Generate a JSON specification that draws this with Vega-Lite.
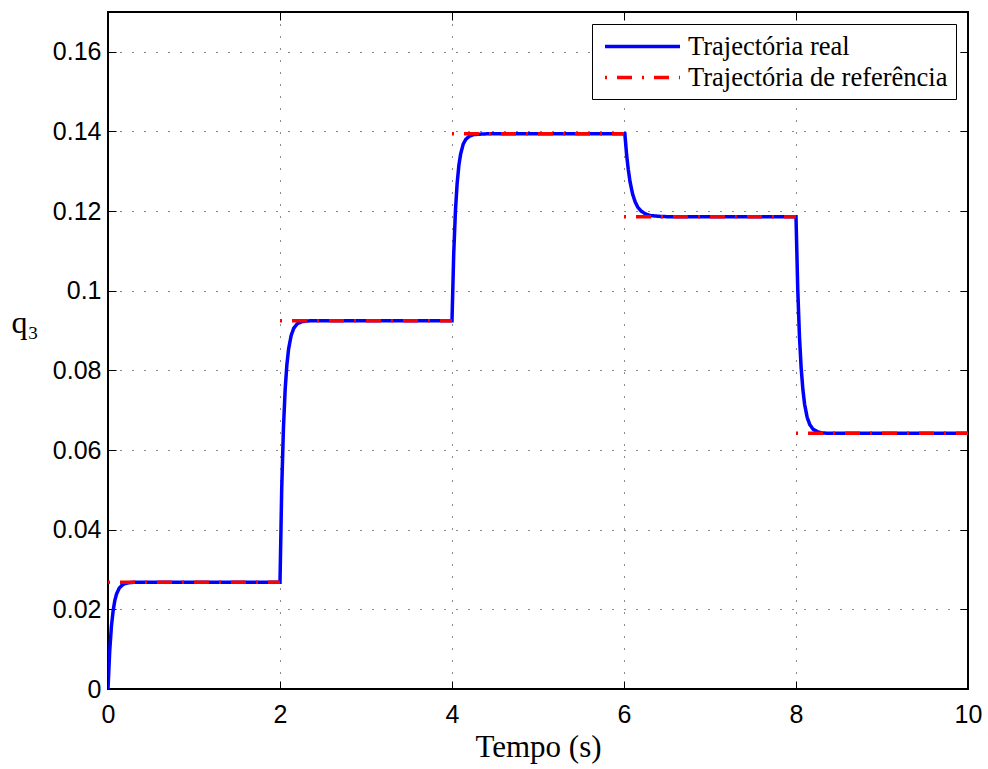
{
  "$schema": "https://vega.github.io/schema/vega-lite/v6.json",
  "width": 860,
  "height": 677,
  "autosize": {"type": "none"},
  "padding": {"left": 108, "top": 12, "right": 20, "bottom": 80},
  "background": "white",
  "config": {
    "view": {"stroke": "black", "strokeWidth": 2},
    "axis": {
      "domain": false,
      "tickColor": "black",
      "tickSize": -8,
      "tickWidth": 1,
      "gridColor": "black",
      "gridDash": [1, 11],
      "gridWidth": 1,
      "gridOpacity": 0.9,
      "labelColor": "black",
      "labelFont": "Liberation Sans",
      "labelFontSize": 25,
      "labelFlush": false,
      "titleColor": "black",
      "titleFont": "Liberation Serif",
      "titleFontWeight": "normal"
    },
    "legend": {
      "orient": "top-right",
      "offset": 12,
      "strokeColor": "black",
      "fillColor": "white",
      "padding": 8,
      "symbolType": "M-3,0H3",
      "symbolSize": 625,
      "symbolOffset": 28,
      "symbolStrokeWidth": 3.5,
      "labelFont": "Liberation Serif",
      "labelFontSize": 26.5,
      "labelColor": "black",
      "labelOffset": 31,
      "rowPadding": 3,
      "labelLimit": 400
    }
  },
  "datasets": {
    "real": [
      {"t": 0, "q": 0, "series": "Trajectória real"},
      {"t": 0.02, "q": 0.0096, "series": "Trajectória real"},
      {"t": 0.04, "q": 0.0158, "series": "Trajectória real"},
      {"t": 0.06, "q": 0.0197, "series": "Trajectória real"},
      {"t": 0.08, "q": 0.0223, "series": "Trajectória real"},
      {"t": 0.10, "q": 0.0239, "series": "Trajectória real"},
      {"t": 0.13, "q": 0.0253, "series": "Trajectória real"},
      {"t": 0.16, "q": 0.0260, "series": "Trajectória real"},
      {"t": 0.20, "q": 0.0265, "series": "Trajectória real"},
      {"t": 0.25, "q": 0.0267, "series": "Trajectória real"},
      {"t": 0.30, "q": 0.0268, "series": "Trajectória real"},
      {"t": 2.0, "q": 0.0268, "series": "Trajectória real"},
      {"t": 2.02, "q": 0.0504, "series": "Trajectória real"},
      {"t": 2.04, "q": 0.0655, "series": "Trajectória real"},
      {"t": 2.06, "q": 0.0752, "series": "Trajectória real"},
      {"t": 2.08, "q": 0.0814, "series": "Trajectória real"},
      {"t": 2.10, "q": 0.0854, "series": "Trajectória real"},
      {"t": 2.13, "q": 0.0888, "series": "Trajectória real"},
      {"t": 2.16, "q": 0.0906, "series": "Trajectória real"},
      {"t": 2.20, "q": 0.0917, "series": "Trajectória real"},
      {"t": 2.25, "q": 0.0922, "series": "Trajectória real"},
      {"t": 2.30, "q": 0.0924, "series": "Trajectória real"},
      {"t": 2.40, "q": 0.0925, "series": "Trajectória real"},
      {"t": 4.0, "q": 0.0925, "series": "Trajectória real"},
      {"t": 4.02, "q": 0.1093, "series": "Trajectória real"},
      {"t": 4.04, "q": 0.1201, "series": "Trajectória real"},
      {"t": 4.06, "q": 0.1270, "series": "Trajectória real"},
      {"t": 4.08, "q": 0.1315, "series": "Trajectória real"},
      {"t": 4.10, "q": 0.1343, "series": "Trajectória real"},
      {"t": 4.13, "q": 0.1368, "series": "Trajectória real"},
      {"t": 4.16, "q": 0.1380, "series": "Trajectória real"},
      {"t": 4.20, "q": 0.1388, "series": "Trajectória real"},
      {"t": 4.25, "q": 0.1392, "series": "Trajectória real"},
      {"t": 4.30, "q": 0.1393, "series": "Trajectória real"},
      {"t": 4.40, "q": 0.1394, "series": "Trajectória real"},
      {"t": 6.0, "q": 0.1394, "series": "Trajectória real"},
      {"t": 6.01, "q": 0.1394, "series": "Trajectória real"},
      {"t": 6.03, "q": 0.1342, "series": "Trajectória real"},
      {"t": 6.05, "q": 0.1304, "series": "Trajectória real"},
      {"t": 6.07, "q": 0.1274, "series": "Trajectória real"},
      {"t": 6.10, "q": 0.1243, "series": "Trajectória real"},
      {"t": 6.13, "q": 0.1223, "series": "Trajectória real"},
      {"t": 6.16, "q": 0.1210, "series": "Trajectória real"},
      {"t": 6.20, "q": 0.1200, "series": "Trajectória real"},
      {"t": 6.25, "q": 0.1193, "series": "Trajectória real"},
      {"t": 6.30, "q": 0.1189, "series": "Trajectória real"},
      {"t": 6.40, "q": 0.1187, "series": "Trajectória real"},
      {"t": 6.50, "q": 0.1186, "series": "Trajectória real"},
      {"t": 8.0, "q": 0.1186, "series": "Trajectória real"},
      {"t": 8.02, "q": 0.1007, "series": "Trajectória real"},
      {"t": 8.04, "q": 0.0886, "series": "Trajectória real"},
      {"t": 8.06, "q": 0.0806, "series": "Trajectória real"},
      {"t": 8.08, "q": 0.0752, "series": "Trajectória real"},
      {"t": 8.10, "q": 0.0715, "series": "Trajectória real"},
      {"t": 8.13, "q": 0.0682, "series": "Trajectória real"},
      {"t": 8.16, "q": 0.0664, "series": "Trajectória real"},
      {"t": 8.20, "q": 0.0652, "series": "Trajectória real"},
      {"t": 8.25, "q": 0.0646, "series": "Trajectória real"},
      {"t": 8.30, "q": 0.0643, "series": "Trajectória real"},
      {"t": 8.40, "q": 0.0642, "series": "Trajectória real"},
      {"t": 10, "q": 0.0642, "series": "Trajectória real"}
    ],
    "ref": [
      {"t": 0, "q": 0.0268, "seg": 1, "series": "Trajectória de referência"},
      {"t": 2, "q": 0.0268, "seg": 1, "series": "Trajectória de referência"},
      {"t": 2, "q": 0.0925, "seg": 2, "series": "Trajectória de referência"},
      {"t": 4, "q": 0.0925, "seg": 2, "series": "Trajectória de referência"},
      {"t": 4, "q": 0.1394, "seg": 3, "series": "Trajectória de referência"},
      {"t": 6, "q": 0.1394, "seg": 3, "series": "Trajectória de referência"},
      {"t": 6, "q": 0.1186, "seg": 4, "series": "Trajectória de referência"},
      {"t": 8, "q": 0.1186, "seg": 4, "series": "Trajectória de referência"},
      {"t": 8, "q": 0.0642, "seg": 5, "series": "Trajectória de referência"},
      {"t": 10, "q": 0.0642, "seg": 5, "series": "Trajectória de referência"}
    ]
  },
  "layer": [
    {
      "data": {"name": "real"},
      "mark": {"type": "line", "strokeWidth": 3.5, "clip": true},
      "encoding": {
        "x": {"field": "t", "type": "quantitative", "scale": {"domain": [0, 10], "nice": false},
          "axis": {"orient": "bottom", "values": [0, 2, 4, 6, 8, 10], "format": "d", "grid": true, "title": "Tempo (s)", "titleFontSize": 31, "labelPadding": 21, "titlePadding": 5}},
        "y": {"field": "q", "type": "quantitative", "scale": {"domain": [0, 0.17], "nice": false},
          "axis": {"orient": "left", "values": [0, 0.02, 0.04, 0.06, 0.08, 0.1, 0.12, 0.14, 0.16], "format": "~g", "grid": true, "title": "q₃", "titleFontSize": 32, "titleAngle": 0, "titleAlign": "left", "titleBaseline": "middle", "titleX": -97, "titleY": 310, "labelPadding": 15}},
        "color": {"field": "series", "type": "nominal", "scale": {"domain": ["Trajectória real", "Trajectória de referência"], "range": ["#0000ff", "#ff0000"]}, "legend": {"title": null}},
        "strokeDash": {"field": "series", "type": "nominal", "scale": {"domain": ["Trajectória real", "Trajectória de referência"], "range": [[1, 0], [2, 10, 15, 10]]}, "legend": {"title": null}}
      }
    },
    {
      "data": {"name": "ref"},
      "mark": {"type": "line", "strokeWidth": 3.5, "clip": true},
      "encoding": {
        "x": {"field": "t", "type": "quantitative", "scale": {"domain": [0, 10], "nice": false}, "axis": null},
        "y": {"field": "q", "type": "quantitative", "scale": {"domain": [0, 0.17], "nice": false}, "axis": null},
        "detail": {"field": "seg", "type": "nominal"},
        "color": {"field": "series", "type": "nominal", "scale": {"domain": ["Trajectória real", "Trajectória de referência"], "range": ["#0000ff", "#ff0000"]}, "legend": {"title": null}},
        "strokeDash": {"field": "series", "type": "nominal", "scale": {"domain": ["Trajectória real", "Trajectória de referência"], "range": [[1, 0], [2, 10, 15, 10]]}, "legend": {"title": null}}
      }
    },
    {
      "data": {"name": "ref"},
      "mark": {"type": "point", "opacity": 0},
      "encoding": {
        "x": {"field": "t", "type": "quantitative", "scale": {"domain": [0, 10], "nice": false},
          "axis": {"orient": "top", "values": [0, 2, 4, 6, 8, 10], "labels": false, "grid": false, "title": null}},
        "y": {"field": "q", "type": "quantitative", "scale": {"domain": [0, 0.17], "nice": false},
          "axis": {"orient": "right", "values": [0, 0.02, 0.04, 0.06, 0.08, 0.1, 0.12, 0.14, 0.16], "labels": false, "grid": false, "title": null}}
      }
    }
  ],
  "resolve": {"axis": {"x": "independent", "y": "independent"}}
}
